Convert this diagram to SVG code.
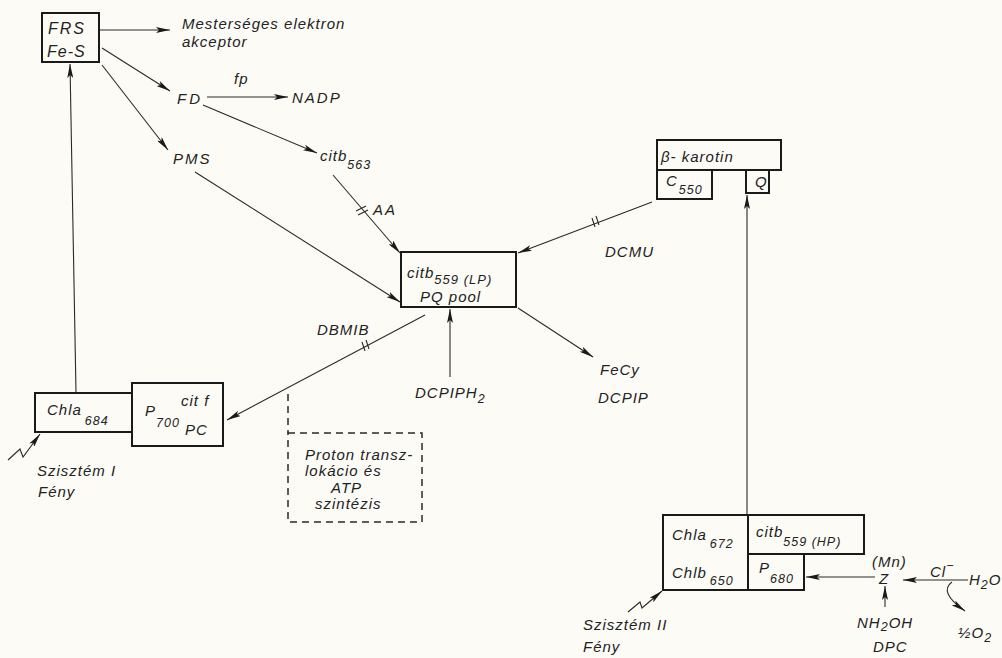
<svg xmlns="http://www.w3.org/2000/svg" width="1002" height="658" viewBox="0 0 1002 658">
<defs>
<marker id="ah" viewBox="0 0 14 6" refX="14" refY="3" markerWidth="14" markerHeight="6" orient="auto" markerUnits="userSpaceOnUse">
<path d="M0,0 L14,3 L0,6 L3,3 z" fill="#1a1a1a"/>
</marker>
<style>
text{font-family:"Liberation Sans",Arial,sans-serif;font-style:italic;font-size:15px;fill:#222;letter-spacing:1px}
.sub{font-size:12.5px}
.box{fill:none;stroke:#1a1a1a;stroke-width:2}
.ln{fill:none;stroke:#2a2a2a;stroke-width:1.1}
.arr{fill:none;stroke:#2a2a2a;stroke-width:1.1;marker-end:url(#ah)}
.dash{fill:none;stroke:#2a2a2a;stroke-width:1.5;stroke-dasharray:7 5}
</style>
</defs>
<rect width="1002" height="658" fill="#fcfbf6"/>

<g id="connectors">
<line class="arr" x1="100" y1="30" x2="170" y2="30"/>
<line class="arr" x1="102" y1="48" x2="170" y2="91"/>
<line class="arr" x1="102" y1="65" x2="168" y2="150"/>
<line class="arr" x1="207" y1="97" x2="288" y2="97"/>
<line class="arr" x1="203" y1="105" x2="317" y2="153"/>
<line class="arr" x1="333" y1="175" x2="400" y2="253"/>
<path class="ln" d="M356,211 l10,-5 M358,215 l10,-5"/>
<line class="arr" x1="195" y1="172" x2="400" y2="302"/>
<line class="arr" x1="652" y1="202" x2="518" y2="253"/>
<path class="ln" d="M592,218 l3,9 M596,216 l3,9"/>
<line class="arr" x1="518" y1="308" x2="593" y2="357"/>
<line class="arr" x1="450" y1="377" x2="450" y2="309"/>
<line class="arr" x1="425" y1="315" x2="227" y2="420"/>
<path class="ln" d="M362,342 l3,9 M366,340 l3,9"/>
<line class="dash" x1="288" y1="394" x2="288" y2="433"/>
<line class="arr" x1="76" y1="392" x2="70" y2="64"/>
<polyline class="arr" points="8,460 20,449 23,457 40,434"/>
<line class="arr" x1="747" y1="515" x2="747" y2="195"/>
<line class="arr" x1="875" y1="577" x2="806" y2="577"/>
<line class="arr" x1="968" y1="580" x2="903" y2="580"/>
<path class="arr" d="M952,582 Q938,592 965,611"/>
<line class="arr" x1="885" y1="607" x2="885" y2="586"/>
<polyline class="arr" points="628,612 640,602 642,608 662,591"/>
</g>

<g id="frs">
<rect class="box" x="42" y="13" width="57" height="49"/>
<text x="48" y="34" style="font-size:16px;letter-spacing:2px">FRS</text>
<text x="47" y="57" style="font-size:16px;letter-spacing:1px">Fe-S</text>
</g>
<g id="mest">
<text x="182" y="29">Mesterséges elektron</text>
<text x="182" y="47">akceptor</text>
</g>
<g id="fd"><text x="177" y="104" style="letter-spacing:3px">FD</text></g>
<g id="fp"><text x="234" y="84">fp</text></g>
<g id="nadp"><text x="292" y="103" style="letter-spacing:2px">NADP</text></g>
<g id="pms"><text x="173" y="164" style="letter-spacing:2px">PMS</text></g>
<g id="citb563"><text x="320" y="161">citb<tspan class="sub" dy="8">563</tspan></text></g>
<g id="aa"><text x="373" y="215" style="letter-spacing:2px">AA</text></g>

<g id="pqpool">
<rect class="box" x="401" y="252" width="115" height="55"/>
<text x="407" y="278">citb<tspan class="sub" dy="6" style="font-size:13px">559 (LP)</tspan></text>
<text x="420" y="302">PQ  pool</text>
</g>
<g id="dcmu"><text x="605" y="257">DCMU</text></g>
<g id="fecy">
<text x="600" y="375">FeCy</text>
<text x="598" y="403">DCPIP</text>
</g>
<g id="dcpiph2"><text x="415" y="398">DCPIPH<tspan class="sub" dy="5">2</tspan></text></g>
<g id="dbmib"><text x="317" y="335">DBMIB</text></g>

<g id="ps1">
<rect class="box" x="35" y="393" width="97" height="39"/>
<rect class="box" x="132" y="383" width="91" height="63"/>
<text x="47" y="415">Chla<tspan class="sub" dx="3" dy="10">684</tspan></text>
<text x="145" y="416">P<tspan class="sub" dy="11">700</tspan></text>
<text x="181" y="406">cit f</text>
<text x="185" y="435">PC</text>
</g>
<g id="sys1">
<text x="37" y="476">Szisztém I</text>
<text x="38" y="497">Fény</text>
</g>

<g id="proton">
<rect class="dash" x="288" y="433" width="134" height="89"/>
<text x="305" y="460">Proton transz-</text>
<text x="305" y="476">lokácio  és</text>
<text x="331" y="493">ATP</text>
<text x="315" y="509">szintézis</text>
</g>

<g id="karotin">
<rect class="box" x="657" y="140" width="124" height="30"/>
<rect class="box" x="657" y="170" width="55" height="29"/>
<rect class="box" x="746" y="170" width="23" height="23"/>
<text x="661" y="162">β- karotin</text>
<text x="666" y="186">C<tspan class="sub" dx="1" dy="8">550</tspan></text>
<text x="755" y="187">Q</text>
</g>

<g id="ps2">
<rect class="box" x="663" y="515" width="85" height="75"/>
<rect class="box" x="748" y="515" width="116" height="39"/>
<rect class="box" x="748" y="554" width="56" height="36"/>
<text x="672" y="540">Chla<tspan class="sub" dx="3" dy="8">672</tspan></text>
<text x="672" y="578">Chlb<tspan class="sub" dx="3" dy="7">650</tspan></text>
<text x="756" y="537">citb<tspan class="sub" dy="9">559 (HP)</tspan></text>
<text x="759" y="573">P<tspan class="sub" dy="10">680</tspan></text>
</g>
<g id="z">
<text x="872" y="567">(Mn)</text>
<text x="879" y="584">Z</text>
</g>
<g id="cl"><text x="930" y="577">Cl<tspan class="sub" dy="-7">−</tspan></text></g>
<g id="h2o"><text x="969" y="585">H<tspan class="sub" dy="4">2</tspan><tspan dy="-4">O</tspan></text></g>
<g id="o2"><text x="958" y="638">½O<tspan class="sub" dy="4">2</tspan></text></g>
<g id="nh2oh">
<text x="857" y="628">NH<tspan class="sub" dy="3">2</tspan><tspan dy="-3">OH</tspan></text>
<text x="873" y="652">DPC</text>
</g>
<g id="sys2">
<text x="583" y="630">Szisztém II</text>
<text x="583" y="652">Fény</text>
</g>
</svg>
